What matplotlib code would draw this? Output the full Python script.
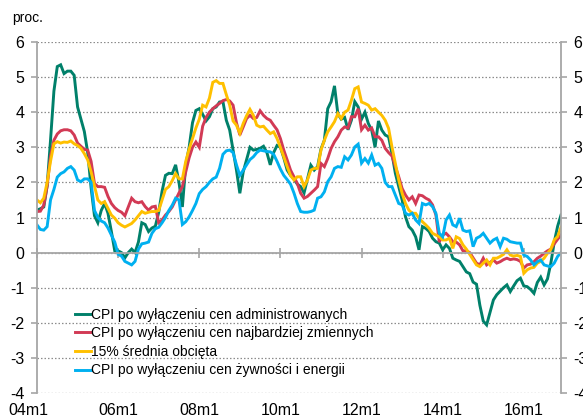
import numpy as np
import matplotlib
matplotlib.use('Agg')
import matplotlib.pyplot as plt
import matplotlib.transforms as mtransforms

plt.rcParams['font.family'] = ['Liberation Sans', 'DejaVu Sans']
plt.rcParams['axes.unicode_minus'] = False

# ===================== dane (miesięcznie, 2004m1 - 2016m12) =====================
cpi_adm = [
    1.21, 1.25, 1.3, 1.9, 3.2, 4.6, 5.3, 5.35, 5.1, 5.17, 5.17, 5.05,
    4.15, 3.8, 3.45, 2.85, 1.85, 1.05, 0.85, 1.2, 1.4, 1.12, 0.6, 0.05,
    0.05, 0.0, -0.15, 0.0, 0.1, 0.0, 0.3, 0.85, 0.8, 0.6, 0.7, 0.75,
    1.15, 1.75, 2.2, 2.26, 2.25, 2.5, 2.0, 1.3, 2.5, 3.0, 3.7, 4.05,
    4.1, 3.94, 3.75, 3.87, 4.1, 4.15, 4.29, 4.3, 3.77, 3.49, 2.92, 2.35,
    1.69, 2.3, 2.65, 3.0, 2.92, 2.94, 2.97, 3.03, 2.85, 2.5, 2.85, 3.05,
    3.0, 2.7, 2.35, 2.2, 2.1, 1.95, 1.88, 1.7, 2.1, 2.49, 2.35, 2.45,
    2.95, 3.2, 4.1, 4.3, 4.75, 3.95, 3.8, 3.85, 3.5, 3.77, 4.3, 4.15,
    3.8, 4.0, 3.68, 3.49, 3.0, 3.75, 3.49, 3.35, 3.3, 2.82, 2.26, 1.88,
    1.5, 1.02, 0.74, 0.64, 0.45, 0.08, 0.74, 0.69, 0.6, 0.41, 0.31, 0.27,
    0.08, 0.22, 0.12, -0.16, -0.21, -0.25, -0.4, -0.55, -0.6, -0.84, -0.9, -1.5,
    -1.95, -2.06, -1.7, -1.35, -1.2, -1.1, -1.0, -0.92, -1.11, -0.95, -0.8, -0.73,
    -0.95, -0.97, -1.05, -1.16, -0.85, -0.7, -0.92, -0.75, -0.3, 0.3, 0.75, 1.07,
]
cpi_zmienne = [
    1.17, 1.18, 1.35, 1.9, 2.75, 3.2, 3.38, 3.47, 3.5, 3.5, 3.47, 3.35,
    3.12, 3.03, 2.94, 2.92, 2.6, 1.97, 1.88, 1.88, 1.86, 1.6, 1.4, 1.28,
    1.2, 1.15, 1.05, 1.3, 1.55, 1.45, 1.42, 1.45, 1.31, 1.21, 1.3, 1.32,
    0.85, 0.93, 1.07, 1.17, 1.3, 1.5, 1.7, 1.88, 2.3, 2.7, 3.0, 3.15,
    3.0, 3.6, 3.85, 4.0, 4.1, 4.18, 4.25, 4.33, 4.36, 4.32, 4.2, 3.7,
    3.35, 3.58, 3.82, 3.91, 3.82, 3.85, 4.04, 3.91, 3.82, 3.77, 3.63, 3.5,
    3.25, 2.92, 2.64, 2.35, 2.16, 1.97, 1.69, 1.55, 1.6, 1.69, 1.78, 1.88,
    2.54, 2.45, 2.68, 2.97, 3.16, 3.3, 3.49, 3.58, 3.55, 3.87, 3.87, 4.1,
    3.5, 3.63, 3.49, 3.55, 3.3, 3.3, 3.2, 2.97, 2.85, 2.75, 2.45, 2.16,
    1.83, 1.64, 1.5, 1.59, 1.4, 1.64, 1.62, 1.55, 1.5, 1.36, 1.07, 0.3,
    0.5, 0.55, 0.45, 0.31, 0.3, 0.22, 0.05, 0.05, 0.0, -0.15, -0.3, -0.35,
    -0.16, -0.35, -0.28, -0.21, -0.3, -0.26, -0.2, -0.16, -0.2, -0.18, -0.2, -0.25,
    -0.44, -0.35, -0.33, -0.26, -0.16, -0.1, -0.02, 0.05, 0.1, 0.25, 0.38, 0.5,
]
srednia_obc = [
    1.5, 1.42, 1.55, 2.0, 2.6, 3.1, 3.16, 3.12, 3.15, 3.14, 3.18, 3.1,
    3.05, 2.97, 2.82, 2.64, 2.3, 1.9, 1.5, 1.4, 1.45, 1.26, 1.07, 0.98,
    0.85, 0.78, 0.73, 0.78, 0.83, 0.93, 1.05, 1.17, 1.12, 1.15, 1.17, 1.17,
    1.2, 1.5, 1.8, 1.88, 2.05, 2.25, 2.1, 2.1, 2.6, 2.95, 3.25, 3.55,
    3.8, 4.2, 4.15, 4.4, 4.85, 4.9, 4.82, 4.82, 4.5, 4.2, 3.75, 3.63,
    3.4, 3.68, 3.9, 4.08, 3.91, 3.63, 3.58, 3.6, 3.49, 3.39, 3.44, 3.25,
    3.0, 2.73, 2.45, 2.2, 2.07, 2.16, 2.16, 1.88, 2.07, 2.35, 2.4, 2.4,
    2.92, 3.2, 3.44, 3.58, 3.73, 3.96, 3.82, 4.0, 4.06, 4.34, 4.67, 4.72,
    4.29, 4.25, 4.2, 4.06, 4.1, 4.0, 3.91, 3.77, 3.54, 3.01, 2.54, 2.07,
    1.69, 1.4, 1.21, 1.12, 1.12, 0.98, 0.88, 0.79, 0.69, 0.55, 0.5, 0.45,
    0.36, 0.36, 0.41, 0.12, 0.45, 0.4, 0.22, 0.1, -0.05, -0.2, -0.35, -0.4,
    -0.3, -0.21, -0.35, -0.16, -0.16, -0.11, -0.05, 0.08, -0.07, -0.1, -0.08, -0.11,
    -0.59, -0.49, -0.44, -0.42, -0.3, -0.25, -0.16, -0.02, 0.1, 0.36, 0.46, 0.72,
]
cpi_bazowa = [
    0.79, 0.66, 0.64, 0.74, 1.5, 1.8, 2.15, 2.25, 2.3, 2.4, 2.45, 2.35,
    2.07, 2.02, 2.1, 2.1, 2.0, 1.2, 1.0, 0.9, 0.85, 0.7, 0.5, 0.3,
    -0.05, -0.1, -0.25, -0.3, -0.35, -0.25, 0.1, 0.25, 0.27, 0.3, 0.55, 0.68,
    0.72, 0.85, 1.0, 1.2, 1.35, 1.55, 1.5, 0.8, 0.88, 1.02, 1.2, 1.4,
    1.68, 1.8, 1.88, 2.0, 2.1, 2.15, 2.4, 2.8, 2.9, 2.92, 2.85, 2.5,
    2.2, 2.35, 2.5, 2.65, 2.73, 2.85, 2.92, 2.9, 2.88, 2.87, 2.8, 2.6,
    2.38, 2.2, 2.08, 1.95, 1.7, 1.4, 1.17, 1.15, 1.15, 1.17, 1.21, 1.55,
    1.59, 1.73, 2.02, 2.16, 2.4, 2.45, 2.43, 2.73, 2.64, 2.78, 3.01, 3.09,
    2.55, 2.68, 2.55, 2.78, 2.49, 2.54, 2.4, 2.0, 1.88, 1.88, 1.64, 1.4,
    1.36, 1.12, 1.07, 1.12, 0.93, 0.83, 1.4, 1.36, 1.4, 1.31, 1.12, 0.55,
    0.45, 0.93, 1.07, 0.79, 0.74, 0.98, 0.64, 0.6, 0.62, 0.17, 0.41, 0.46,
    0.55, 0.41, 0.27, 0.36, 0.41, 0.17, 0.41, 0.38, 0.31, 0.29, 0.27, 0.27,
    -0.07, -0.11, -0.21, -0.35, -0.26, -0.21, -0.35, -0.38, -0.4, -0.3, -0.11, 0.0,
]

etykiety = ['CPI po wyłączeniu cen administrowanych',
            'CPI po wyłączeniu cen najbardziej zmiennych',
            '15% średnia obcięta',
            'CPI po wyłączeniu cen żywności i energii']
kolory = ['#00806A', '#D23A55', '#FFC000', '#00B0F0']
xtick_labels = ['04m1', '06m1', '08m1', '10m1', '12m1', '14m1', '16m1']

# ===================== wykres =====================
SZARY = '#A6A6A6'
fig = plt.figure(figsize=(5.83, 4.17), dpi=100)
ax = fig.add_axes([37/583, 1-393/417, 524/583, 351/417])

x = np.arange(len(cpi_adm))
for seria, kol, lab in zip([cpi_adm, cpi_zmienne, srednia_obc, cpi_bazowa], kolory, etykiety):
    ax.plot(x, seria, color=kol, lw=2.1, label=lab, solid_joinstyle='miter')

ax.set_xlim(0, len(cpi_adm) - 1)
ax.set_ylim(-4, 6)
ax.set_yticks(range(-4, 7))
ax.yaxis.grid(True, color='#8c8c8c', linestyle=(0, (1.2, 1.6)), lw=0.9)

ax.spines['top'].set_visible(False)
for s in ['left', 'right', 'bottom']:
    ax.spines[s].set_color(SZARY)
    ax.spines[s].set_linewidth(1.3)
ax.spines['bottom'].set_position(('data', 0))

ax.tick_params(axis='y', left=True, right=True, labelleft=True, labelright=True,
               direction='out', length=4, width=1.2, color=SZARY, labelsize=11.5, pad=5)
ax.set_xticks(np.arange(0, len(cpi_adm), 24))
ax.tick_params(axis='x', direction='inout', length=7, width=1.2, color=SZARY, labelbottom=False)

sec = ax.secondary_xaxis(0.0)
sec.set_xticks(np.arange(0, len(cpi_adm), 24))
sec.set_xticklabels(xtick_labels)
sec.spines['bottom'].set_visible(False)
sec.tick_params(length=0, labelsize=11.5, pad=7)
# pierwsza etykieta przesunięta w lewo jak w oryginale
pierwsza = sec.get_xticklabels()[0]
pierwsza.set_transform(pierwsza.get_transform() +
                       mtransforms.ScaledTranslation(-9/100, 0, fig.dpi_scale_trans))

leg = ax.legend(loc='upper left', bbox_to_anchor=(0.073, 0.243), frameon=False,
                fontsize=10, handlelength=1.1, handletextpad=0.05, labelspacing=0.33,
                borderpad=0, borderaxespad=0)

fig.text(12/583, 1-18/417, 'proc.', fontsize=10, va='center', ha='left')

plt.savefig('out.png', dpi=100)
plt.close()
